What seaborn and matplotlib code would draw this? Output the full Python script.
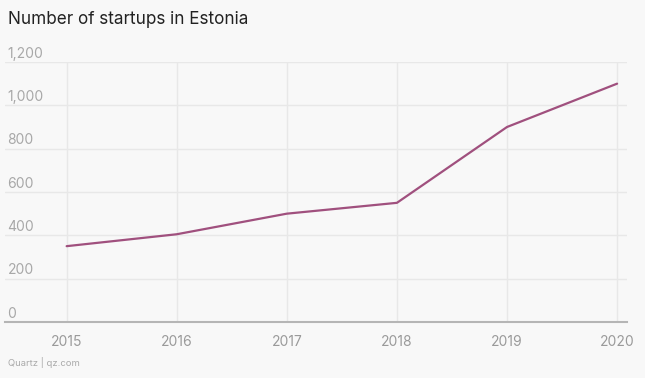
import matplotlib.pyplot as plt
import numpy as np
import pandas as pd
import seaborn as sns

# Data
years = [2015, 2016, 2017, 2018, 2019, 2020]
startups = [350, 405, 500, 550, 900, 1100]
y_ticks = [0, 200, 400, 600, 800, 1000, 1200]

df = pd.DataFrame({"year": years, "startups": startups})

sns.set_theme(style="white")
plt.rcParams["font.family"] = ["Inter", "DejaVu Sans"]

bg = "#f8f8f8"
fig = plt.figure(figsize=(6.45, 3.78), dpi=100, facecolor=bg)
ax = fig.add_axes([5 / 645, 1 - 322 / 378, 622 / 645, 260 / 378])
ax.set_facecolor(bg)

sns.lineplot(data=df, x="year", y="startups", color="#a0507e", linewidth=1.6, ax=ax)

ax.set_xlim(2014.44, 2020.09)
ax.set_ylim(0, 1200)
ax.set_xticks(years)
ax.set_yticks(y_ticks)
ax.set_yticklabels([])
ax.set_xticklabels([str(y) for y in years])
ax.tick_params(axis="x", length=0, pad=9, labelsize=10, labelcolor="#9a9a9a")
ax.tick_params(axis="y", length=0)

ax.grid(True, color="#e8e8e8", linewidth=1)
ax.set_axisbelow(True)
for s in ["top", "right", "left"]:
    ax.spines[s].set_visible(False)
ax.spines["bottom"].set_color("#b5b5b5")
ax.spines["bottom"].set_linewidth(1.5)
ax.set_xlabel("")
ax.set_ylabel("")

# y labels sit just above the gridlines, left-aligned
trans = ax.get_yaxis_transform()
for v in y_ticks:
    ax.text(0.004, v + 6, f"{v:,}", transform=trans, ha="left", va="bottom",
            fontsize=10, color="#a8a8a8")

fig.text(8 / 645, 1 - 20 / 378, "Number of startups in Estonia", ha="left",
         va="center", fontsize=12.3, color="#222222")
fig.text(8 / 645, 1 - 363 / 378, "Quartz | qz.com", ha="left", va="center",
         fontsize=6.8, color="#aaaaaa")

fig.savefig("out.png", dpi=100, facecolor=bg)
